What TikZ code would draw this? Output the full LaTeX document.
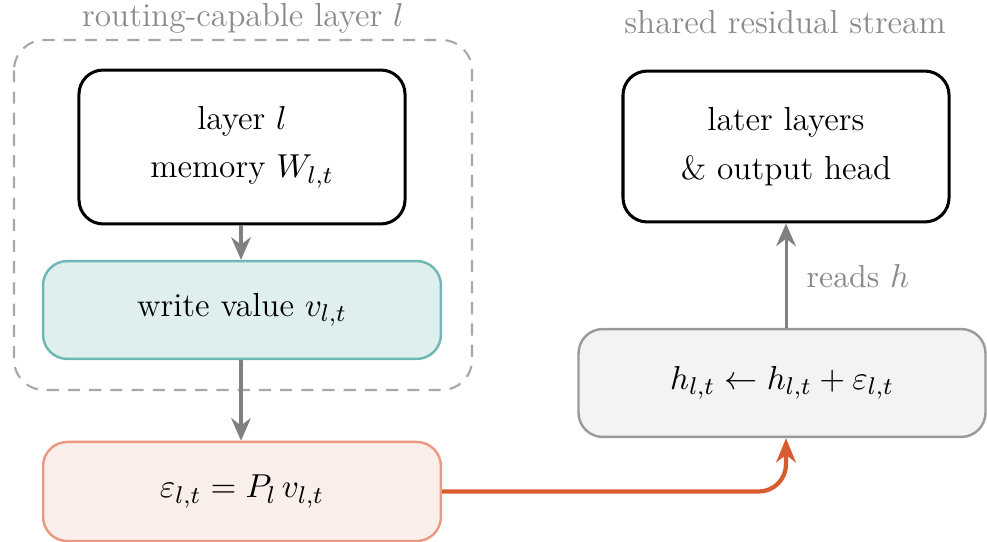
\documentclass[tikz,border=0pt]{standalone}
\usetikzlibrary{arrows.meta,positioning}
\definecolor{tealfill}{HTML}{DFEFEE}
\definecolor{tealline}{HTML}{6DB8B5}
\definecolor{orfill}{HTML}{FAEEEA}
\definecolor{orline}{HTML}{EA9982}
\definecolor{orarrow}{HTML}{D95B30}
\definecolor{grayfill}{HTML}{F3F3F3}
\definecolor{grayline}{HTML}{9A9A9A}
\definecolor{arrgray}{HTML}{808080}
\definecolor{dashgray}{HTML}{A8A8A8}
\definecolor{titlegray}{HTML}{8A8A8A}
\tikzset{
  box/.style={rounded corners=8pt, align=center, inner sep=0pt, font=\fontsize{11}{16}\selectfont},
  blackbox/.style={box, draw=black, line width=1pt, fill=white},
  tealbox/.style={box, draw=tealline, line width=0.8pt, fill=tealfill},
  orbox/.style={box, draw=orline, line width=0.8pt, fill=orfill},
  graybox/.style={box, draw=grayline, line width=0.8pt, fill=grayfill},
  garrow/.style={draw=arrgray, line width=1pt, -{Stealth[length=7.5pt,width=6.5pt,inset=2.5pt]}},
  oarrow/.style={draw=orarrow, line width=1.4pt, -{Stealth[length=8pt,width=6.5pt,inset=2.5pt]}, rounded corners=9pt},
  titletext/.style={text=titlegray, font=\fontsize{11}{13}\selectfont},
}
\begin{document}
\begin{tikzpicture}[x=0.33pt, y=-0.33pt]
\useasboundingbox (0,0) rectangle (987,542);
\draw[dashgray, line width=0.7pt, dash pattern=on 4pt off 3pt, rounded corners=10pt] (14,40) rectangle (472,390);
\node[titletext] (t1) at (243,18) {routing-capable layer $l$};
\node[titletext] (t2) at (785,22) {shared residual stream};
\node[blackbox, minimum width=107.6pt, minimum height=50.8pt] (mem) at (242,147) {layer $l$\\ memory $W_{l,t}$};
\node[tealbox, minimum width=131.3pt, minimum height=32.3pt] (val) at (242,310) {write value $v_{l,t}$};
\node[orbox, minimum width=131.3pt, minimum height=32.7pt] (eps) at (242,491.5) {$\varepsilon_{l,t} = P_l\, v_{l,t}$};
\node[graybox, minimum width=134.3pt, minimum height=35.6pt] (res) at (782,383) {$h_{l,t} \leftarrow h_{l,t} + \varepsilon_{l,t}$};
\node[blackbox, minimum width=107.6pt, minimum height=49.8pt] (out) at (786,146.5) {later layers\\ \& output head};
\draw[garrow] (mem.south -| 241,0) -- (val.north -| 241,0);
\draw[garrow] (val.south -| 241,0) -- (eps.north -| 241,0);
\draw[garrow] (res.north -| out.south) -- node[right=3pt, text=titlegray, font=\fontsize{10.5}{12}\selectfont] {reads $h$} (out.south);
\draw[oarrow] (eps.east) -| (res.south -| out.south);
\end{tikzpicture}
\end{document}
